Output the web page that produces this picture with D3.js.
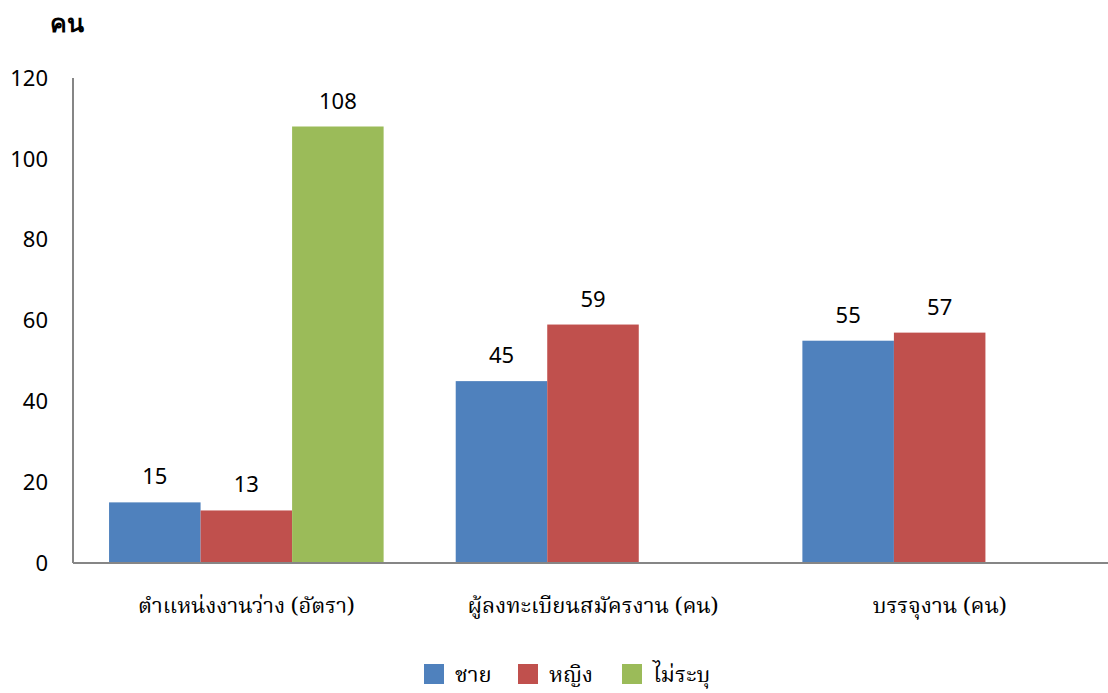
<!DOCTYPE html>
<html>
<head>
<meta charset="utf-8">
<script src="https://cdn.jsdelivr.net/npm/d3@7"></script>
<style>
  body { margin: 0; background: #fff; }
  text { font-family: "Noto Sans", "Open Sans", sans-serif; }
  .thai { font-family: "Norasi", "Kinnari", "Noto Serif Thai", "Noto Sans Thai", "Noto Sans", serif; }
</style>
</head>
<body>
<script>
// Data
const categories = ["ตำแหน่งงานว่าง (อัตรา)", "ผู้ลงทะเบียนสมัครงาน (คน)", "บรรจุงาน (คน)"];
const seriesNames = ["ชาย", "หญิง", "ไม่ระบุ"];
const male = [15, 45, 55];
const female = [13, 59, 57];
const unspecified = [108, null, null];
const yTicks = [0, 20, 40, 60, 80, 100, 120];
const colors = ["#4f81bd", "#c0504d", "#9bbb59"];

const width = 1108, height = 693;
const margin = {top: 78, right: -5, bottom: 130, left: 73};

var svg = d3.select("body").append("svg")
    .attr("width", width)
    .attr("height", height);

const x0 = d3.scaleBand()
    .domain(categories)
    .range([margin.left, width - margin.right])
    .paddingInner(0.208)
    .paddingOuter(0.104);

const x1 = d3.scaleBand()
    .domain(seriesNames)
    .range([0, x0.bandwidth()]);

const y = d3.scaleLinear()
    .domain([0, 120])
    .range([height - margin.bottom, margin.top]);

const series = [male, female, unspecified];

// axes
svg.append("line")
    .attr("x1", margin.left).attr("x2", margin.left)
    .attr("y1", y(120)).attr("y2", y(0))
    .attr("stroke", "#868686").attr("stroke-width", 2);

svg.selectAll(".ytick")
    .data(yTicks)
    .enter()
    .append("text")
    .attr("class", "ytick")
    .attr("x", 48)
    .attr("y", d => y(d))
    .attr("dy", "0.35em")
    .attr("text-anchor", "end")
    .attr("font-size", 22)
    .text(d => d);

// bars
series.forEach(function(vals, si) {
    let g = svg.append("g");
    let rows = vals.map((v, i) => ({cat: categories[i], v: v})).filter(d => d.v != null);
    g.selectAll("rect")
        .data(rows)
        .enter()
        .append("rect")
        .attr("x", d => x0(d.cat) + x1(seriesNames[si]))
        .attr("y", d => y(d.v))
        .attr("width", x1.bandwidth())
        .attr("height", d => y(0) - y(d.v))
        .attr("fill", colors[si]);

    g.selectAll("text")
        .data(rows)
        .enter()
        .append("text")
        .attr("x", d => x0(d.cat) + x1(seriesNames[si]) + x1.bandwidth() / 2)
        .attr("y", d => y(d.v) - 18)
        .attr("text-anchor", "middle")
        .attr("font-size", 22)
        .text(d => d.v);
});

svg.append("line")
    .attr("x1", margin.left).attr("x2", width)
    .attr("y1", y(0)).attr("y2", y(0))
    .attr("stroke", "#868686").attr("stroke-width", 2);

// category labels
svg.selectAll(".xlab")
    .data(categories)
    .enter()
    .append("text")
    .attr("class", "thai")
    .attr("x", d => x0(d) + x0.bandwidth() / 2)
    .attr("y", 613)
    .attr("text-anchor", "middle")
    .attr("font-size", 22)
    .text(d => d);

// title
svg.append("text")
    .attr("x", 50).attr("y", 32)
    .attr("font-size", 25)
    .attr("font-weight", "bold")
    .text("คน");

// legend
const legendX = [424, 518, 622];
let legend = svg.append("g");
seriesNames.forEach(function(name, i) {
    legend.append("rect")
        .attr("x", legendX[i]).attr("y", 664)
        .attr("width", 20).attr("height", 20)
        .attr("fill", colors[i]);
    legend.append("text")
        .attr("class", "thai")
        .attr("x", legendX[i] + 31).attr("y", 682)
        .attr("font-size", 22)
        .text(name);
});
</script>
</body>
</html>
